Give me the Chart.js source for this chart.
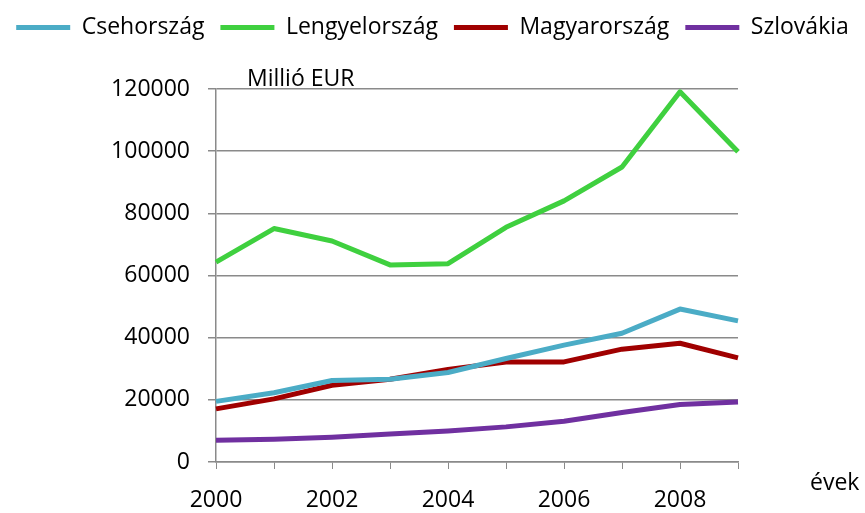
<!DOCTYPE html>
<html>
<head>
<meta charset="utf-8">
<script src="https://cdn.jsdelivr.net/npm/chart.js@4.4.1/dist/chart.umd.min.js"></script>
<style>
  body { margin: 0; background: #fff; }
</style>
</head>
<body>
<canvas id="chart" width="865" height="513"></canvas>
<script>
const years = ['2000', '2001', '2002', '2003', '2004', '2005', '2006', '2007', '2008', '2009'];
const cehorszag = [19500, 22300, 26200, 26600, 28800, 33300, 37600, 41400, 49200, 45400];
const lengyelorszag = [64300, 75100, 71100, 63400, 63800, 75500, 84000, 94900, 119100, 99800];
const magyarorszag = [17100, 20300, 24700, 26600, 29800, 32200, 32200, 36300, 38200, 33500];
const szlovakia = [7000, 7300, 8000, 9000, 10000, 11300, 13100, 15900, 18500, 19300];
const unitLabel = 'Millió EUR';
const xTitle = 'évek';

const font = { family: 'Open Sans', size: 23 };
const gray = '#8a8a8a';

// extra texts: unit above the plot, axis name right of the x axis
const notes = {
    id: 'notes',
    afterDraw(chart) {
        const ctx = chart.ctx;
        const a = chart.chartArea;
        ctx.save();
        ctx.font = '23px "Open Sans"';
        ctx.fillStyle = '#000';
        ctx.textBaseline = 'alphabetic';
        ctx.textAlign = 'left';
        ctx.fillText(unitLabel, a.left + 31, a.top - 3);
        ctx.fillText(xTitle, a.right + 72, a.bottom + 28);
        ctx.restore();
    }
};

new Chart(document.getElementById('chart'), {
    type: 'line',
    data: {
        labels: years,
        datasets: [
            { label: 'Csehország', data: cehorszag, borderColor: '#4BACC6', backgroundColor: '#4BACC6' },
            { label: 'Lengyelország', data: lengyelorszag, borderColor: '#3FD03F', backgroundColor: '#3FD03F' },
            { label: 'Magyarország', data: magyarorszag, borderColor: '#A00000', backgroundColor: '#A00000' },
            { label: 'Szlovákia', data: szlovakia, borderColor: '#7030A0', backgroundColor: '#7030A0' }
        ]
    },
    options: {
        responsive: false,
        animation: false,
        layout: { padding: 0 },
        elements: {
            line: { borderWidth: 5, tension: 0, borderJoinStyle: 'round' },
            point: { radius: 0, borderWidth: 5 }
        },
        plugins: {
            legend: {
                display: true,
                labels: {
                    font: font,
                    color: '#000',
                    usePointStyle: true,
                    pointStyle: 'line',
                    pointStyleWidth: 54,
                    padding: 16
                }
            },
            // empty subtitle only keeps space between legend and plot
            subtitle: {
                display: true,
                text: '',
                weight: 500,
                font: { size: 10 },
                padding: { top: 0, bottom: 28 }
            },
            tooltip: { enabled: false }
        },
        scales: {
            x: {
                offset: false,
                grid: { drawOnChartArea: false, drawTicks: true, tickLength: 7, color: gray },
                border: { color: gray, width: 1.5 },
                ticks: {
                    font: font,
                    color: '#000',
                    autoSkip: false,
                    maxRotation: 0,
                    padding: 18,
                    callback: (v, i) => i % 2 === 0 ? years[i] : ''
                },
                afterFit: scale => {
                    scale.height = 51;
                    scale.paddingRight = 127;
                }
            },
            y: {
                min: 0,
                max: 120000,
                grid: { color: gray, lineWidth: 1.5, tickLength: 8 },
                border: { color: gray, width: 1.5 },
                ticks: {
                    font: font,
                    color: '#000',
                    stepSize: 20000,
                    padding: 18,
                    callback: v => String(v)
                },
                afterFit: scale => {
                    scale.width = 216;
                }
            }
        }
    },
    plugins: [notes]
});
</script>
</body>
</html>
